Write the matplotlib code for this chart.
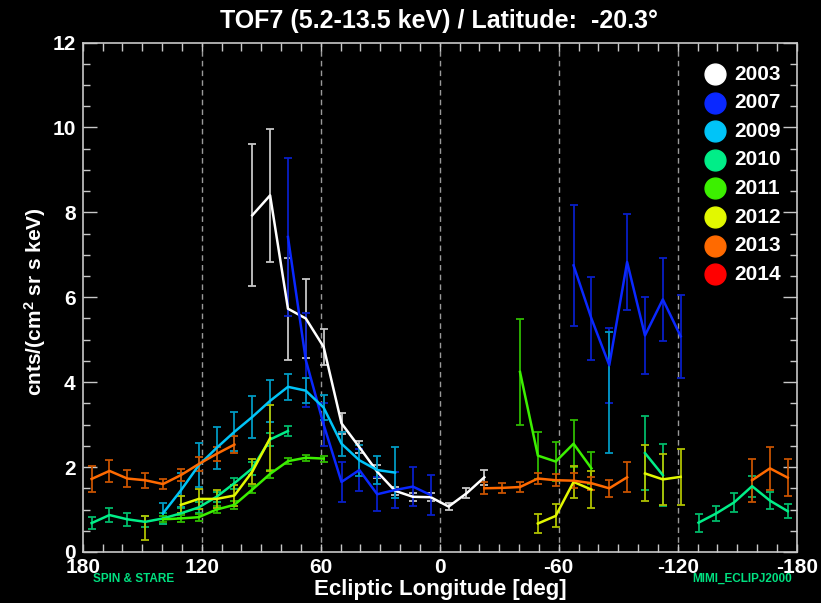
import numpy as np
import matplotlib
matplotlib.use("Agg")
import matplotlib.pyplot as plt
from matplotlib.ticker import MultipleLocator

plt.rcParams['font.family'] = ['Liberation Sans', 'DejaVu Sans']
plt.rcParams['font.weight'] = 'bold'
plt.rcParams['mathtext.default'] = 'regular'

# longitude bin centres (deg), values (cnts/(cm^2 sr s keV)) and 1-sigma errors per year
lon_2003 = [94.5, 85.5, 76.5, 67.5, 58.5, 49.5, 40.5, 31.5, 22.5, 13.5, 4.5, -4.5, -13.5, -22.5]
val_2003 = [7.93, 8.40, 5.73, 5.50, 4.83, 3.03, 2.47, 1.89, 1.44, 1.30, 1.29, 1.07, 1.38, 1.76]
err_2003 = [1.67, 1.57, 1.20, 0.94, 0.42, 0.25, 0.15, 0.15, 0.10, 0.10, 0.10, 0.08, 0.12, 0.18]

lon_2007 = [76.5, 67.5, 58.5, 49.5, 40.5, 31.5, 22.5, 13.5, 4.5,
            -67.5, -76.5, -85.5, -94.5, -103.5, -112.5, -121.5]
val_2007 = [7.42, 4.52, 3.00, 1.65, 1.93, 1.36, 1.46, 1.54, 1.34,
            6.75, 5.50, 4.40, 6.83, 5.10, 5.95, 5.08]
err_2007 = [1.85, 1.10, 0.50, 0.47, 0.50, 0.40, 0.42, 0.46, 0.48,
            1.42, 0.97, 0.88, 1.12, 0.90, 0.97, 0.98]

lon_2009 = [139.5, 130.5, 121.5, 112.5, 103.5, 94.5, 85.5, 76.5, 67.5, 58.5, 49.5, 40.5, 31.5, 22.5, -85.5]
val_2009 = [0.91, 1.45, 2.04, 2.45, 2.83, 3.18, 3.56, 3.89, 3.80, 3.40, 2.55, 2.16, 1.93, 1.87, 3.75]
err_2009 = [0.25, 0.40, 0.52, 0.50, 0.46, 0.50, 0.50, 0.31, 0.30, 0.30, 0.28, 0.36, 0.32, 0.60, 1.43]

lon_2010 = [175.5, 166.5, 157.5, 148.5, 139.5, 130.5, 121.5, 112.5, 103.5, 94.5, 85.5, 76.5,
            -103.5, -112.5, -130.5, -139.5, -148.5, -157.5, -166.5, -175.5]
val_2010 = [0.68, 0.87, 0.77, 0.71, 0.79, 0.91, 1.05, 1.30, 1.62, 1.97, 2.65, 2.85,
            2.33, 1.81, 0.69, 0.91, 1.17, 1.55, 1.21, 0.96]
err_2010 = [0.15, 0.16, 0.16, 0.13, 0.12, 0.12, 0.12, 0.12, 0.13, 0.15, 0.15, 0.12,
            0.87, 0.73, 0.21, 0.18, 0.22, 0.25, 0.20, 0.17]

lon_2011 = [139.5, 130.5, 121.5, 112.5, 103.5, 94.5, 85.5, 76.5, 67.5, 58.5,
            -40.5, -49.5, -58.5, -67.5, -76.5]
val_2011 = [0.77, 0.79, 0.82, 1.00, 1.11, 1.47, 1.84, 2.14, 2.22, 2.20,
            4.24, 2.27, 2.13, 2.55, 1.97]
err_2011 = [0.07, 0.08, 0.08, 0.08, 0.09, 0.08, 0.09, 0.07, 0.07, 0.07,
            1.24, 0.55, 0.45, 0.55, 0.38]

lon_2012 = [148.5, 130.5, 121.5, 112.5, 103.5, 94.5, 85.5,
            -49.5, -58.5, -67.5, -76.5, -103.5, -112.5, -121.5]
val_2012 = [0.57, 1.11, 1.25, 1.25, 1.33, 1.89, 2.68,
            0.67, 0.85, 1.65, 1.47, 1.85, 1.71, 1.77]
err_2012 = [0.28, 0.20, 0.24, 0.22, 0.25, 0.30, 0.78,
            0.22, 0.27, 0.38, 0.43, 0.66, 0.60, 0.66]

lon_2013 = [175.5, 166.5, 157.5, 148.5, 139.5, 130.5, 121.5, 112.5, 103.5,
            -22.5, -31.5, -40.5, -49.5, -58.5, -67.5, -76.5, -85.5, -94.5,
            -157.5, -166.5, -175.5]
val_2013 = [1.72, 1.91, 1.73, 1.69, 1.60, 1.81, 2.07, 2.31, 2.53,
            1.50, 1.51, 1.53, 1.73, 1.69, 1.68, 1.62, 1.50, 1.76,
            1.69, 1.97, 1.75]
err_2013 = [0.30, 0.25, 0.21, 0.18, 0.12, 0.14, 0.16, 0.17, 0.21,
            0.14, 0.12, 0.12, 0.14, 0.14, 0.18, 0.15, 0.20, 0.35,
            0.51, 0.50, 0.44]

lon_2014 = []
val_2014 = []
err_2014 = []

years = ['2003', '2007', '2009', '2010', '2011', '2012', '2013', '2014']
colors = ['#ffffff', '#0a28ff', '#00c4f8', '#00ee88', '#3cf000', '#e2f800', '#ff6a00', '#ff0000']
series = [(lon_2003, val_2003, err_2003), (lon_2007, val_2007, err_2007),
          (lon_2009, val_2009, err_2009), (lon_2010, val_2010, err_2010),
          (lon_2011, val_2011, err_2011), (lon_2012, val_2012, err_2012),
          (lon_2013, val_2013, err_2013), (lon_2014, val_2014, err_2014)]


def darker(c, f=0.78):
    rgb = np.array(matplotlib.colors.to_rgb(c))
    return tuple(rgb * f)


fig = plt.figure(figsize=(8.21, 6.03), dpi=100, facecolor='black')
ax = fig.add_axes([0.1007, 0.0846, 0.8697, 0.8449], facecolor='black')

for x in [120, 60, 0, -60, -120]:
    ax.axvline(x, color='#9a9a9a', lw=1.0, ls=(0, (4, 3)), zorder=1)

for (lon, val, err), c in zip(series, colors):
    if len(lon) == 0:
        continue
    lon = np.array(lon, float)
    val = np.array(val, float)
    err = np.array(err, float)
    ax.errorbar(lon, val, yerr=err, fmt='none', ecolor=darker(c), elinewidth=1.3,
                capsize=3.2, capthick=1.3, zorder=2)
    # break the line where bins are missing
    gaps = np.where(np.abs(np.diff(lon)) > 10)[0] + 1
    xs = np.insert(lon, gaps, np.nan)
    ys = np.insert(val, gaps, np.nan)
    ax.plot(xs, ys, color=c, lw=1.8, zorder=3)

ax.set_xlim(180, -180)
ax.set_ylim(0, 12)
ax.xaxis.set_minor_locator(MultipleLocator(10))
ax.yaxis.set_minor_locator(MultipleLocator(0.5))
ax.set_xticks([180, 120, 60, 0, -60, -120, -180])
ax.set_xticklabels(['180', '120', '60', '0', '-60', '-120', '-180'])
ax.set_yticks([0, 2, 4, 6, 8, 10, 12])
ax.set_yticklabels(['0', '2', '4', '6', '8', '10', '12'])

for s in ax.spines.values():
    s.set_color('#c8c8c8')
    s.set_linewidth(1.2)
ax.tick_params(which='both', direction='in', top=True, right=True, colors='#c8c8c8',
               labelcolor='white', labelsize=15, width=1.0)
ax.tick_params(axis='y', which='major', length=10, pad=5)
ax.tick_params(axis='y', which='minor', length=5)
ax.tick_params(axis='x', which='major', length=6, pad=4)
ax.tick_params(axis='x', which='minor', length=6)

fig.text(0.536, 0.022, 'Ecliptic Longitude [deg]', color='white', fontsize=16,
         ha='center', va='center')
fig.text(0.043, 0.5, 'cnts/(cm$^2$ sr s keV)', color='white', fontsize=15,
         ha='center', va='center', rotation=90)
fig.text(0.535, 0.965, 'TOF7 (5.2-13.5 keV) / Latitude:  -20.3°', color='white',
         fontsize=18, ha='center', va='center')

# legend
for i, (yr, c) in enumerate(zip(years, colors)):
    yy = 0.938 - 0.0561 * i
    ax.plot([0.886], [yy], 'o', color=c, ms=15, transform=ax.transAxes, clip_on=False, zorder=5)
    ax.text(0.912, yy, yr, color='white', fontsize=15, va='center', ha='left',
            transform=ax.transAxes, zorder=5)

fig.text(0.113, 0.040, 'SPIN & STARE', color='#00e080', fontsize=8.5, ha='left', va='center')
fig.text(0.965, 0.040, 'MIMI_ECLIPJ2000', color='#00e080', fontsize=8.5, ha='right', va='center')

fig.savefig('out.png', dpi=100, facecolor='black')
